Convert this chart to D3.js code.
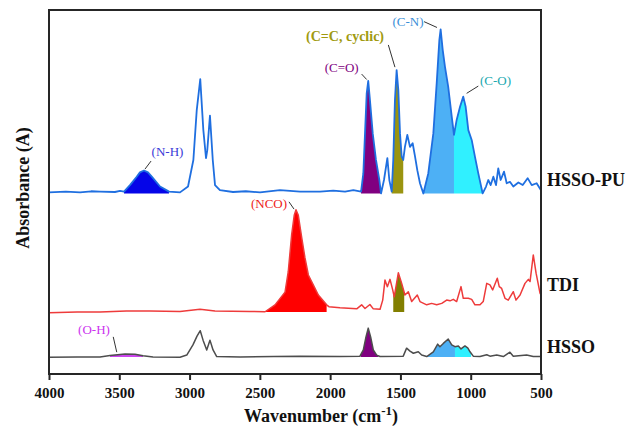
<!DOCTYPE html>
<html><head><meta charset="utf-8">
<script src="https://cdn.jsdelivr.net/npm/d3@7"></script>
<style>body{margin:0;background:#fff}svg{display:block}</style>
</head><body>
<svg id="c" width="630" height="429"></svg>
<script>
// ---------- data ----------
const xTicks = [4000, 3500, 3000, 2500, 2000, 1500, 1000, 500];
const seriesNames = ["HSSO-PU", "TDI", "HSSO"];
const seriesBase = [49.6, 17.0, 4.7];

const hssoPU = [[4000,49.9],[3880,50.1],[3779,49.9],[3700,50.2],[3637,50.1],[3531,50.0],[3495,50.3],[3466,50.1],[3424,51.9],[3376,54.2],[3353,55.4],[3324,55.9],[3296,55.4],[3269,54.2],[3210,51.5],[3146,50.1],[3068,49.9],[3011,51.5],[2973,58.8],[2949,72.5],[2924,81.0],[2902,67.0],[2883,59.3],[2874,61.5],[2855,71.0],[2835,58.8],[2819,51.9],[2784,50.5],[2691,50.0],[2600,50.2],[2499,49.9],[2357,50.5],[2214,50.1],[2072,50.1],[1978,50.4],[1894,50.1],[1835,50.5],[1780,50.1],[1764,55.1],[1752,66.1],[1740,77.1],[1729,80.5],[1717,75.3],[1697,66.1],[1674,58.8],[1650,53.3],[1638,49.6],[1617,53.3],[1593,59.3],[1579,53.3],[1562,50.1],[1551,58.8],[1539,75.3],[1527,83.5],[1515,78.0],[1503,66.1],[1491,59.7],[1480,58.8],[1468,62.4],[1451,65.7],[1432,62.4],[1413,63.4],[1396,59.7],[1380,56.0],[1361,52.4],[1337,49.6],[1302,55.1],[1266,66.1],[1242,79.9],[1223,91.8],[1214,94.7],[1199,89.0],[1183,84.4],[1160,78.9],[1135,70.7],[1119,65.7],[1100,69.8],[1076,73.4],[1053,76.2],[1036,73.4],[1017,67.0],[993,64.3],[970,59.7],[946,55.1],[915,49.6],[891,51.5],[875,53.3],[858,51.9],[839,54.2],[820,51.9],[804,56.5],[787,53.3],[763,55.6],[744,52.4],[721,52.8],[697,51.5],[661,52.6],[630,51.9],[595,53.8],[566,51.9],[531,52.4],[500,50.5]];

const tdi = [[4000,16.8],[3800,17.0],[3637,17.0],[3450,17.3],[3282,17.3],[3068,17.2],[2926,17.8],[2819,17.3],[2570,17.2],[2463,17.1],[2392,19.0],[2321,22.5],[2298,28.1],[2274,38.2],[2255,43.7],[2243,45.1],[2227,43.7],[2202,37.4],[2179,31.9],[2155,27.2],[2120,24.5],[2084,21.7],[2025,19.0],[2009,18.5],[1930,18.2],[1811,17.9],[1776,19.0],[1752,18.0],[1717,19.1],[1693,17.9],[1645,17.8],[1626,20.3],[1610,25.8],[1593,24.0],[1574,26.0],[1555,23.1],[1544,21.2],[1515,27.8],[1491,24.9],[1468,21.7],[1444,22.6],[1420,19.9],[1380,21.7],[1361,19.9],[1313,19.0],[1278,19.4],[1242,19.0],[1206,19.4],[1171,20.3],[1147,20.1],[1124,20.5],[1100,19.9],[1069,24.0],[1053,20.8],[1017,20.8],[993,20.5],[970,19.0],[934,19.0],[911,19.9],[886,24.9],[863,24.5],[844,23.1],[811,26.3],[797,24.0],[780,23.5],[756,20.8],[733,20.3],[697,22.6],[678,20.3],[649,21.7],[614,24.9],[590,26.0],[578,25.4],[555,32.7],[535,27.7],[507,22.2],[500,21.7]];

const hsso = [[4000,4.6],[3800,4.7],[3637,4.7],[3566,5.1],[3459,5.5],[3388,5.4],[3331,5.0],[3260,4.7],[3068,4.6],[3020,5.2],[2976,8.0],[2947,10.4],[2924,11.9],[2904,9.3],[2878,6.6],[2855,9.3],[2833,6.6],[2807,4.8],[2641,4.7],[2400,4.8],[2214,4.9],[1930,4.8],[1788,4.9],[1764,6.6],[1745,10.2],[1729,12.6],[1712,10.2],[1693,6.6],[1669,5.2],[1645,4.8],[1480,4.9],[1456,7.1],[1432,6.3],[1408,5.7],[1373,6.1],[1349,5.2],[1313,4.8],[1266,6.1],[1235,8.2],[1219,7.5],[1195,8.4],[1160,9.6],[1135,8.0],[1112,7.5],[1088,7.7],[1069,6.9],[1041,7.7],[1020,7.1],[1005,6.1],[982,4.9],[934,4.8],[886,5.3],[863,4.9],[815,5.2],[768,4.8],[721,6.0],[697,4.9],[602,5.2],[555,4.8],[500,4.8]];

// shaded bands: [series index, from wavenumber, to wavenumber, band key]
const bands = [
  [0, 3466, 3146, "NH"], [0, 1780, 1638, "CO"], [0, 1562, 1480, "CC"],
  [0, 1337, 1119, "CN"], [0, 1119, 915, "COs"],
  [1, 2463, 2025, "NCO"], [1, 1551, 1473, "CC2"],
  [2, 3566, 3331, "OH"], [2, 1783, 1657, "CO"], [2, 1309, 1112, "CN"], [2, 1112, 997, "COs"]
];

// annotations: text, [wavenumber, absorbance] of label centre, leader from, leader to
const annText = ["(N-H)", "(NCO)", "(C=O)", "(C=C, cyclic)", "(C-N)", "(C-O)", "(O-H)"];
const annPos = [[3157,59.9],[2435,45.7],[1918,83.1],[1894,91.5],[1446,95.7],[824,79.5],[3680,11.0]];
const annFrom = [[3317,56.3],[2293,47.3],[1776,82.4],[1586,90.4],[1332,96.8],[1029,77.1],[3543,10.2]];
const annTo = [[3274,58.5],[2257,45.3],[1740,80.9],[1539,84.3],[1240,95.2],[946,79.1],[3518,6.0]];

// ---------- styles ----------
const lineColors = ["#1f6fe0", "#ee3b3b", "#4d4d4d"];
const lineWidths = [1.8, 1.5, 1.5];
const bandColors = {NH:"#0505e8", CO:"#800080", CC:"#9a9410", CN:"#4db0f5", COs:"#30f0ff", NCO:"#ff0000", CC2:"#827f00", OH:"#cc44ee"};
const annColors = ["#3a3ad8", "#ee2222", "#800080", "#a09a10", "#3a8fd8", "#20a8b0", "#cc33ee"];
const annBold = [false, false, false, true, false, false, false];

const L = 49, R = 541, T = 10, B = 374;
const serif = "'Liberation Serif','Times New Roman',serif";

const svg = d3.select("#c");
const x = d3.scaleLinear().domain([4000, 500]).range([L, R]);
const y = d3.scaleLinear().domain([0, 100]).range([B, T]);

const allSeries = [hssoPU, tdi, hsso];

// fills
const defs = svg.append("defs");
bands.forEach((b, i) => {
  const [si, f, t, key] = b;
  defs.append("clipPath").attr("id", "cl" + i)
    .append("rect").attr("x", x(f)).attr("y", T).attr("width", x(t) - x(f)).attr("height", B - T);
  const area = d3.area().x(d => x(d[0])).y0(y(seriesBase[si])).y1(d => y(d[1]));
  svg.append("path").datum(allSeries[si]).attr("d", area)
    .attr("fill", bandColors[key]).attr("clip-path", `url(#cl${i})`);
});

// lines
const line = d3.line().x(d => x(d[0])).y(d => y(d[1]));
allSeries.forEach((s, i) => {
  svg.append("path").datum(s).attr("d", line)
    .attr("fill", "none").attr("stroke", lineColors[i])
    .attr("stroke-width", lineWidths[i]).attr("stroke-linejoin", "round");
});

// frame
svg.append("rect").attr("x", L).attr("y", T).attr("width", R - L).attr("height", B - T)
  .attr("fill", "none").attr("stroke", "#262626").attr("stroke-width", 2);

// x axis
const ax = svg.append("g").attr("transform", `translate(0,${B})`)
  .call(d3.axisBottom(x).tickValues(xTicks).tickSize(6).tickFormat(d3.format("d")));
ax.select(".domain").remove();
ax.selectAll(".tick line").attr("stroke", "#262626").attr("stroke-width", 2);
ax.selectAll(".tick text").attr("y", 24).attr("dy", 0)
  .attr("font-family", serif).attr("font-weight", "bold").attr("font-size", 15).attr("fill", "#111");

// axis titles
const xt = svg.append("text").attr("x", 321).attr("y", 422).attr("text-anchor", "middle")
  .attr("font-family", serif).attr("font-weight", "bold").attr("font-size", 18).attr("fill", "#111");
xt.append("tspan").text("Wavenumber (cm");
xt.append("tspan").attr("dy", -7).attr("font-size", 13).text("-1");
xt.append("tspan").attr("dy", 7).text(")");

svg.append("text").attr("transform", "translate(29,188) rotate(-90)").attr("text-anchor", "middle")
  .attr("font-family", serif).attr("font-weight", "bold").attr("font-size", 18).attr("fill", "#111")
  .text("Absorbance (A)");

// series labels
allSeries.forEach((s, i) => {
  svg.append("text").attr("x", R + 6).attr("y", y(s[s.length - 1][1]) - 4)
    .attr("font-family", serif).attr("font-weight", "bold").attr("font-size", 18).attr("fill", "#111")
    .text(seriesNames[i]);
});

// annotations
annText.forEach((t, i) => {
  svg.append("line").attr("x1", x(annFrom[i][0])).attr("y1", y(annFrom[i][1]))
    .attr("x2", x(annTo[i][0])).attr("y2", y(annTo[i][1]))
    .attr("stroke", "#333").attr("stroke-width", 1);
  svg.append("text").attr("x", x(annPos[i][0])).attr("y", y(annPos[i][1]))
    .attr("text-anchor", "middle").attr("font-family", serif)
    .attr("font-weight", annBold[i] ? "bold" : "normal")
    .attr("font-size", annBold[i] ? 14 : 13).attr("fill", annColors[i]).text(t);
});
</script>
</body></html>
